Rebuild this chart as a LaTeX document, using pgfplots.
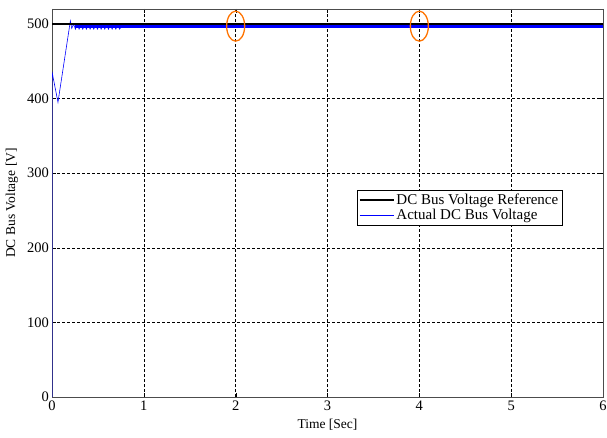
\documentclass[border=0pt]{standalone}
\usepackage{pgfplots}
\pgfplotsset{compat=1.18}
\usepackage{fontspec}
\setmainfont{Liberation Serif}
\begin{document}
\begin{tikzpicture}
\begin{axis}[
  scale only axis, width=551pt, height=388pt,
  xmin=0, xmax=6, ymin=0, ymax=520,
  xtick={0,1,2,3,4,5,6}, ytick={0,100,200,300,400,500},
  grid=major, major grid style={densely dashed, black, line width=0.4pt},
  tick align=inside, tick style={black},
  axis line style={black!70, line width=0.6pt},
  xlabel={Time [Sec]}, ylabel={DC Bus Voltage [V]},
  xlabel style={at={(axis description cs:0.5,-0.072)}, anchor=center},
  ylabel style={at={(axis description cs:-0.0726,0.5)}, anchor=center},
  ticklabel style={font=\fontsize{14.5}{15}\selectfont},
  xticklabel style={yshift=0pt}, yticklabel style={xshift=0.5pt},
  label style={font=\fontsize{13.5}{15}\selectfont},
  /pgf/number format/assume math mode=true,
  legend style={at={(0.553,0.534)}, anchor=north west, draw=black, line width=0.5pt,
    font=\fontsize{15}{17}\selectfont, inner sep=2pt, row sep=-1pt},
  legend image code/.code={\draw[#1] (0cm,0cm) -- (1.2cm,0cm);},
  legend cell align=left,
]
\addplot[black, line width=1.4pt] coordinates {(0,500) (6,500)};
\addlegendentry{DC Bus Voltage Reference}
\addplot[blue, line width=0.6pt] coordinates {
(0,0) (0,436) (0.065,395) (0.2,504) (0.215,494) (0.235,500) (0.255,493) (0.275,500)
(0.295,493) (0.315,499) (0.335,493) (0.355,499) (0.375,493) (0.395,499) (0.415,493)
(0.435,499) (0.455,493) (0.475,499) (0.495,493) (0.515,499) (0.535,493) (0.555,499) (0.575,493)
(0.595,499) (0.615,493) (0.635,499) (0.655,493) (0.675,499) (0.695,493) (0.715,499) (0.735,493) (0.76,497)};
\addlegendentry{Actual DC Bus Voltage}
\addplot[blue, line width=3.8pt, forget plot] coordinates {(0.25,496.5) (6,496.5)};
\addplot[black, line width=1.4pt, forget plot] coordinates {(0,500) (6,500)};
\draw[orange!90!red, line width=1.3pt] (axis cs:2,497) ellipse [x radius=9pt, y radius=15pt];
\draw[orange!90!red, line width=1.3pt] (axis cs:4,497) ellipse [x radius=9pt, y radius=15pt];
\end{axis}
\pgfresetboundingbox
\path ([shift={(-52pt,-40pt)}]current axis.south west) rectangle ([shift={(4pt,9pt)}]current axis.north east);
\end{tikzpicture}
\end{document}
